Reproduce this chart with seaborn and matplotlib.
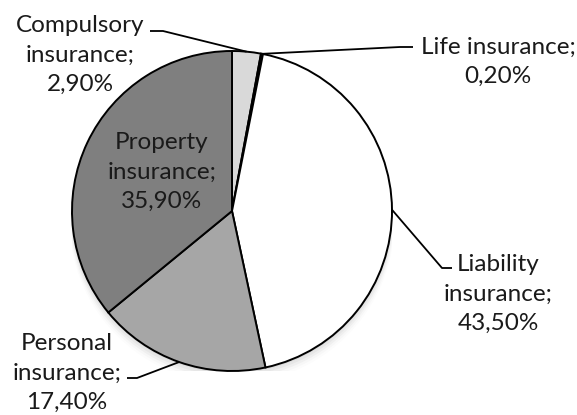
import numpy as np
import matplotlib.pyplot as plt
import seaborn as sns

# insurance portfolio shares, clockwise from 12 o'clock
labels = ['Compulsory\ninsurance;\n2,90%', 'Life insurance;\n0,20%',
          'Liability\ninsurance;\n43,50%', 'Personal\ninsurance;\n17,40%',
          'Property\ninsurance;\n35,90%']
shares = [2.9, 0.2, 43.5, 17.4, 35.9]
colors = ['#d9d9d9', '#404040', '#ffffff', '#a6a6a6', '#7f7f7f']

sns.set_theme(style='white')
plt.rcParams['font.family'] = ['Lato', 'DejaVu Sans']

W, H = 577, 415
CX, CY, R = 232, 211, 160   # pie centre / radius in pixels

fig = plt.figure(figsize=(W / 100, H / 100), dpi=100)
ax = fig.add_axes([(CX - R) / W, (H - CY - R) / H, 2 * R / W, 2 * R / H])


def px(x, y):
    return (x - CX) / R, (CY - y) / R


# soft shadow under the pie
for i, a in enumerate([0.06, 0.045, 0.03, 0.02, 0.012]):
    ax.add_patch(plt.Circle((0, -(2 + 2 * i) / R), 1.0 + i * 0.004,
                            color='k', alpha=a, lw=0, zorder=0))

wedges, _ = ax.pie(shares, colors=colors, startangle=90, counterclock=False,
                   wedgeprops=dict(edgecolor='black', linewidth=1.4))
ax.set_xlim(-1, 1)
ax.set_ylim(-1, 1)
ax.axis('off')

# label layout in pixels: (elbow, line end, text centre)
layout = {
    0: ((163, 31), (150, 31), (80, 55)),
    1: ((400, 47), (413, 47), (498, 62)),
    2: ((442, 268), (452, 268), (498, 294)),
    3: ((137, 378), (127, 378), (67, 373)),
}

fs = 17.5
for i, w in enumerate(wedges):
    mid = np.deg2rad((w.theta1 + w.theta2) / 2)
    edge = (np.cos(mid), np.sin(mid))
    if i in layout:
        elbow, end, txt = layout[i]
        ex, ey = px(*elbow)
        nx, ny = px(*end)
        ax.plot([edge[0], ex, nx], [edge[1], ey, ny], color='black', lw=1.3,
                clip_on=False, solid_capstyle='butt')
        tx, ty = px(*txt)
    else:
        tx, ty = px(162, 172)
    ax.text(tx, ty, labels[i], ha='center', va='center', fontsize=fs,
            linespacing=1.5, color='#1a1a1a', clip_on=False)

fig.savefig('out.png', dpi=100)
